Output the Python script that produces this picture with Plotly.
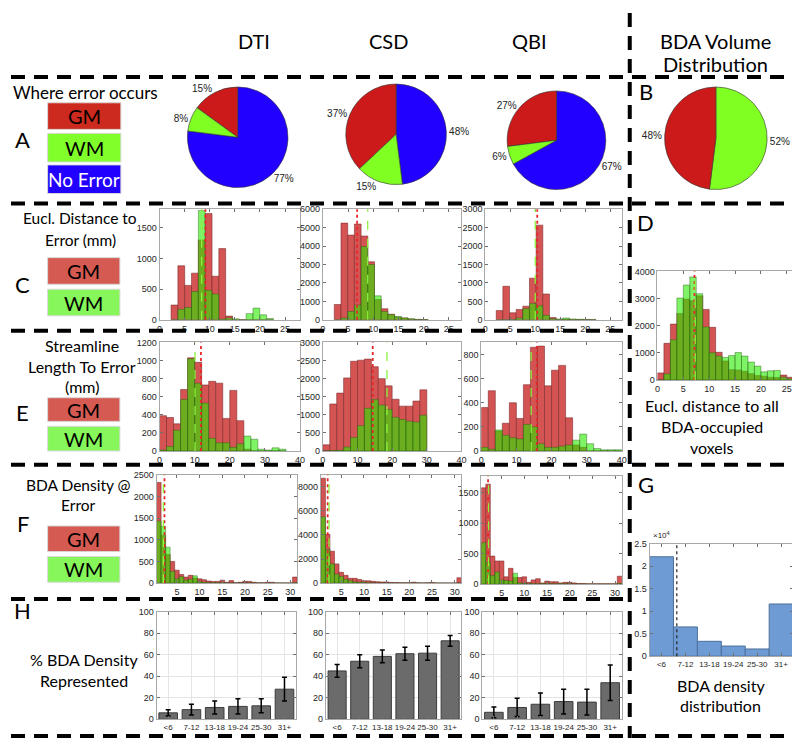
import plotly.graph_objects as go

W, H = 800, 738
def X(px): return px / W
def Y(py): return 1 - py / H

# ---------------- data ----------------
# pie slices listed in drawing order (No Error, GM, WM) so GM starts at 12 o'clock going counter-clockwise
pie_labels = ["No Error", "GM", "WM"]
pie_dti = [77, 15, 8]
pie_csd = [48, 37, 15]
pie_qbi = [67, 27, 6]
bda_labels = ["WM", "GM"]
pie_bda = [52, 48]

# Euclidean distance to error (C)
c_dti_x0, c_dti_w = 2.3, 1.36
c_dti_gm = [240, 880, 560, 760, 1300, 1730, 710, 1160, 60, 0, 0, 0, 0, 0, 0]
c_dti_wm = [0, 170, 200, 460, 1780, 480, 420, 10, 30, 15, 0, 100, 190, 80, 20]
c_dti_mean = [9.15, 8.4]
c_csd_x0, c_csd_w = 2.27, 1.33
c_csd_gm = [830, 5250, 4600, 5200, 4550, 3150, 1100, 600, 300, 150, 100, 40, 20, 10]
c_csd_wm = [0, 100, 450, 800, 3980, 3000, 1300, 450, 280, 180, 100, 60, 20, 10]
c_csd_mean = [6.8, 8.9]
c_qbi_x0, c_qbi_w = 2.2, 1.33
c_qbi_gm = [250, 910, 190, 280, 370, 1130, 2570, 700, 60, 10, 20, 10, 5, 5, 0]
c_qbi_wm = [0, 0, 10, 50, 300, 440, 380, 120, 30, 20, 50, 20, 15, 10, 10]
c_qbi_mean = [10.4, 10.0]

# Streamline length to error (E)
e_x0, e_w = 0, 2
e_dti_gm = [390, 370, 300, 680, 1030, 980, 730, 770, 750, 360, 670, 335, 20, 0, 0, 0, 0, 0]
e_dti_wm = [10, 50, 230, 570, 1020, 750, 530, 140, 90, 90, 40, 80, 165, 130, 20, 10, 35, 20]
e_dti_mean = [11.8, 10.1]
e_csd_gm = [170, 1300, 1600, 2020, 2480, 2510, 2540, 2330, 2000, 1800, 1430, 1240, 1240, 1380, 1690]
e_csd_wm = [0, 10, 20, 110, 370, 700, 1180, 1420, 1270, 1150, 930, 870, 820, 800, 990]
e_csd_mean = [14.4, 18.5]
e_qbi_gm = [360, 500, 165, 230, 400, 270, 550, 860, 870, 540, 670, 710, 275, 50, 30, 0, 0, 0, 0, 0]
e_qbi_wm = [30, 15, 175, 130, 110, 100, 220, 200, 60, 30, 30, 40, 50, 90, 140, 60, 20, 10, 10, 10]
e_qbi_mean = [15.8, 14.2]

# BDA density at error (F)
f_x0, f_w = 0.5, 1
f_dti_gm = [2320, 1100, 660, 500, 300, 200, 140, 180, 120, 100, 80, 50, 40, 40, 70, 20, 60, 10, 20, 40,
            40, 20, 10, 10, 20, 20, 5, 5, 5, 5, 140]
f_dti_wm = [1430, 1310, 830, 270, 100, 150, 70, 90, 170, 30, 20, 10, 10, 10, 10, 5, 5, 5, 5, 5,
            5, 5, 0, 0, 0, 0, 0, 0, 0, 0, 10]
f_dti_mean = [2.25, 2.0]
f_csd_gm = [8700, 4050, 2650, 1600, 900, 650, 400, 400, 300, 200, 200, 150, 120, 100, 100, 60, 50, 40, 30, 30,
            80, 30, 20, 30, 60, 20, 10, 10, 10, 10, 450]
f_csd_wm = [5500, 2800, 1600, 750, 550, 300, 200, 100, 80, 50, 30, 20, 20, 10, 10, 10, 10, 5, 5, 5,
            5, 5, 5, 5, 5, 0, 0, 0, 0, 0, 20]
f_csd_mean = [2.0, 2.3]
f_qbi_gm = [1580, 1640, 460, 380, 380, 120, 260, 110, 110, 120, 30, 70, 90, 20, 50, 40, 40, 20, 30, 30,
            20, 10, 10, 5, 5, 5, 5, 5, 5, 5, 130]
f_qbi_wm = [680, 360, 140, 200, 70, 60, 50, 180, 20, 10, 5, 5, 5, 5, 5, 5, 5, 5, 5, 5,
            0, 0, 0, 0, 0, 0, 0, 0, 0, 0, 10]
f_qbi_mean = [2.0, 2.1]

# Eucl. distance to all BDA-occupied voxels (D)
d_x0, d_w = 0, 1.25
d_gm = [260, 1350, 2060, 2450, 2980, 2920, 3100, 2600, 1940, 1020, 700, 380, 370, 320, 230, 160, 140, 100, 90, 180, 100]
d_wm = [0, 220, 1480, 3020, 3500, 3800, 3180, 1950, 1000, 880, 830, 900, 1010, 880, 660, 510, 300, 340, 350, 100, 40]
d_mean = [7.15, 7.3]

# BDA density categories
density_cats = ["<6", "7-12", "13-18", "19-24", "25-30", "31+"]
g_counts = [22100, 6500, 3300, 2250, 1600, 11600]
g_threshold = 0.64

h_dti = [6, 9, 11, 12, 12.5, 28]
h_dti_err = [3, 5, 6, 7, 6.5, 11]
h_csd = [45, 54, 58.5, 61, 61.5, 73]
h_csd_err = [6, 6, 6, 6, 6.5, 5]
h_qbi = [6.5, 11, 14, 16.5, 16, 34]
h_qbi_err = [5, 8.5, 10.5, 11.5, 12, 16.5]

# ---------------- styles ----------------
COL = {"GM": "#cc1a1a", "WM": "#80ff22", "No Error": "#2200ff"}
HIST_RED = "rgb(212,84,84)"
HIST_RED_EDGE = "rgba(120,40,40,0.8)"
HIST_GREEN = "rgba(40,235,0,0.6)"
HIST_GREEN_EDGE = "rgba(40,90,20,0.6)"
TXT_FONT = "Lato"
TICK_FONT = dict(family="Liberation Sans", size=9, color="#262626")

fig = go.Figure()
layout = dict(width=W, height=H, margin=dict(l=0, r=0, t=0, b=0),
              paper_bgcolor="white", plot_bgcolor="white", showlegend=False,
              barmode="overlay")
shapes = []
annotations = []

def axis_common(dom, rng):
    return dict(domain=dom, range=rng, showline=True, mirror="allticks", ticks="inside",
                ticklen=3, tickwidth=1, linecolor="#a8a8a8", tickcolor="#707070", linewidth=1,
                tickfont=TICK_FONT, zeroline=False, showgrid=False, fixedrange=True)

def add_hist(n, xpx, ypx, x0, w, gm, wm, means, xrng, yrng, xt, yt):
    xs = "x" if n == 1 else f"x{n}"
    ys = "y" if n == 1 else f"y{n}"
    cg = [x0 + w * (i + 0.5) for i in range(len(gm))]
    cw = [x0 + w * (i + 0.5) for i in range(len(wm))]
    fig.add_trace(go.Bar(x=cg, y=gm, width=w, xaxis=xs, yaxis=ys,
                         marker=dict(color=HIST_RED, line=dict(color=HIST_RED_EDGE, width=0.7)),
                         hoverinfo="skip"))
    fig.add_trace(go.Bar(x=cw, y=wm, width=w, xaxis=xs, yaxis=ys,
                         marker=dict(color=HIST_GREEN, line=dict(color=HIST_GREEN_EDGE, width=0.7)),
                         hoverinfo="skip"))
    xa = axis_common([X(xpx[0]), X(xpx[1])], xrng)
    xa.update(anchor=ys, tickvals=xt)
    ya = axis_common([Y(ypx[1]), Y(ypx[0])], yrng)
    ya.update(anchor=xs, tickvals=yt)
    layout["xaxis" if n == 1 else f"xaxis{n}"] = xa
    layout["yaxis" if n == 1 else f"yaxis{n}"] = ya
    shapes.append(dict(type="line", xref=xs, yref=f"{ys} domain", x0=means[0], x1=means[0], y0=0, y1=1,
                       line=dict(color="#e8262a", width=1.8, dash="dot")))
    shapes.append(dict(type="line", xref=xs, yref=f"{ys} domain", x0=means[1], x1=means[1], y0=0, y1=1,
                       line=dict(color="#8cf23c", width=1.3, dash="dash")))

# pies
def add_pie(vals, labels, cx, cy, r):
    fig.add_trace(go.Pie(values=vals, labels=labels, sort=False, direction="counterclockwise",
                         rotation=0, textinfo="percent", textposition="outside",
                         marker=dict(colors=[COL[l] for l in labels], line=dict(color="#333333", width=0.6)),
                         textfont=dict(family="Liberation Sans", size=10, color="#222222"),
                         domain=dict(x=[X(cx - r), X(cx + r)], y=[Y(cy + r), Y(cy - r)]),
                         hoverinfo="skip", showlegend=False))

add_pie(pie_dti, pie_labels, 229, 126, 51)
add_pie(pie_csd, pie_labels, 389, 123, 51)
add_pie(pie_qbi, pie_labels, 551, 129, 50)
add_pie(pie_bda, bda_labels, 712, 127, 52)

# histograms
c_xt = [0, 5, 10, 15, 20, 25]
add_hist(1, (150, 292), (199, 311), c_dti_x0, c_dti_w, c_dti_gm, c_dti_wm, c_dti_mean, [0, 28], [0, 1800], c_xt, [0, 500, 1000, 1500])
add_hist(2, (315, 455), (199, 311), c_csd_x0, c_csd_w, c_csd_gm, c_csd_wm, c_csd_mean, [0, 27.5], [0, 6000], c_xt, [0, 1000, 2000, 3000, 4000, 5000, 6000])
add_hist(3, (479, 617), (199, 311), c_qbi_x0, c_qbi_w, c_qbi_gm, c_qbi_wm, c_qbi_mean, [0, 27.3], [0, 3000], c_xt, [0, 500, 1000, 1500, 2000, 2500, 3000])

e_xt = [0, 10, 20, 30, 40]
add_hist(4, (150, 292), (334, 444), e_x0, e_w, e_dti_gm, e_dti_wm, e_dti_mean, [0, 40], [0, 1200], e_xt, [0, 200, 400, 600, 800, 1000, 1200])
add_hist(5, (315, 455), (334, 444), e_x0, e_w, e_csd_gm, e_csd_wm, e_csd_mean, [0, 40], [0, 3000], e_xt, [0, 500, 1000, 1500, 2000, 2500, 3000])
add_hist(6, (475, 617), (334, 444), e_x0, e_w, e_qbi_gm, e_qbi_wm, e_qbi_mean, [0, 40], [0, 900], e_xt, [0, 200, 400, 600, 800])

f_xt = [5, 10, 15, 20, 25, 30]
add_hist(7, (147, 289), (468, 578), f_x0, f_w, f_dti_gm, f_dti_wm, f_dti_mean, [0.5, 31.5], [0, 2500], f_xt, [0, 500, 1000, 1500, 2000, 2500])
add_hist(8, (313, 455), (468, 578), f_x0, f_w, f_csd_gm, f_csd_wm, f_csd_mean, [0.5, 31.5], [0, 9000], f_xt, [0, 2000, 4000, 6000, 8000])
add_hist(9, (475, 617), (469, 579), f_x0, f_w, f_qbi_gm, f_qbi_wm, f_qbi_mean, [0.5, 31.5], [0, 1780], f_xt, [0, 500, 1000, 1500])

add_hist(10, (653, 793), (262, 372), d_x0, d_w, d_gm, d_wm, d_mean, [0, 26.8], [0, 4000], c_xt, [0, 1000, 2000, 3000, 4000])

CAT_FONT = dict(family="Liberation Sans", size=8, color="#262626")

# G: BDA density distribution
fig.add_trace(go.Bar(x=density_cats, y=g_counts, width=1, xaxis="x11", yaxis="y11",
                     marker=dict(color="#6e9bd4", line=dict(color="#4d6f9c", width=1)), hoverinfo="skip"))
xa = axis_common([X(645), X(790)], [-0.5, 5.5])
xa.update(anchor="y11", type="category", tickangle=0, tickfont=CAT_FONT)
ya = axis_common([Y(652), Y(538)], [0, 25000])
ya.update(anchor="x11", tickvals=[0, 5000, 10000, 15000, 20000, 25000],
          ticktext=["0", "0.5", "1", "1.5", "2", "2.5"])
layout["xaxis11"] = xa; layout["yaxis11"] = ya
shapes.append(dict(type="line", xref="x11", yref="y11 domain", x0=g_threshold, x1=g_threshold, y0=0, y1=1,
                   line=dict(color="#222222", width=1.2, dash="dot")))
annotations.append(dict(text="×10<sup>4</sup>", x=X(646), y=Y(536), xref="paper", yref="paper",
                        xanchor="left", yanchor="bottom", showarrow=False,
                        font=dict(family="Liberation Sans", size=8, color="#262626")))

# H: % BDA density represented
def add_hbar(n, xpx, vals, errs):
    fig.add_trace(go.Bar(x=density_cats, y=vals, width=0.8, xaxis=f"x{n}", yaxis=f"y{n}",
                         marker=dict(color="#6b6b6b", line=dict(color="#3c3c3c", width=1)),
                         error_y=dict(type="data", array=errs, color="black", thickness=1.5, width=2.5),
                         hoverinfo="skip"))
    xa = axis_common([X(xpx[0]), X(xpx[1])], [-0.5, 5.5])
    xa.update(anchor=f"y{n}", type="category", showgrid=True, gridcolor="#e4e4e4",
              tickangle=0, tickfont=CAT_FONT)
    ya = axis_common([Y(716), Y(607)], [0, 100])
    ya.update(anchor=f"x{n}", tickvals=[0, 20, 40, 60, 80, 100], showgrid=True, gridcolor="#e4e4e4")
    layout[f"xaxis{n}"] = xa; layout[f"yaxis{n}"] = ya

add_hbar(12, (147, 288), h_dti, h_dti_err)
add_hbar(13, (318, 455), h_csd, h_csd_err)
add_hbar(14, (476, 617), h_qbi, h_qbi_err)

# ---------------- decorations ----------------
DASH = dict(color="black", width=4, dash="14px,9px")
def hline(y, x0, x1):
    shapes.append(dict(type="line", xref="paper", yref="paper", x0=X(x0), x1=X(x1), y0=Y(y), y1=Y(y), line=DASH))
def vline(x, y0, y1):
    shapes.append(dict(type="line", xref="paper", yref="paper", x0=X(x), x1=X(x), y0=Y(y0), y1=Y(y1), line=DASH))

hline(65, 0, 800)
hline(193, 0, 800)
hline(322, 0, 624)
hline(458, 0, 800)
hline(594, 0, 624)
hline(733, 0, 800)
vline(625, 0, 738)

def txt(t, x, y, size, color="black", xanchor="center", family=TXT_FONT):
    annotations.append(dict(text=t, x=X(x), y=Y(y), xref="paper", yref="paper", xanchor=xanchor,
                            yanchor="middle", showarrow=False, font=dict(family=family, size=size, color=color)))

def box(x0, y0, x1, y1, color, label, tcolor="black", size=20):
    shapes.append(dict(type="rect", xref="paper", yref="paper", x0=X(x0), x1=X(x1), y0=Y(y1), y1=Y(y0),
                       fillcolor=color, line=dict(color="#d8d8d8", width=1)))
    txt(label, (x0 + x1) / 2, (y0 + y1) / 2, size, tcolor)

# headers
txt("DTI", 245, 28, 20)
txt("CSD", 381, 28, 20)
txt("QBI", 524, 28, 20)
txt("BDA Volume", 712, 28, 20)
txt("Distribution", 712, 52, 20)

# row A
txt("Where error occurs", 75, 81, 17)
txt("A", 12, 128, 22)
box(37, 91, 111, 118, "#cc2a1e", "GM")
box(37, 122, 111, 151, "#80ff2a", "WM")
box(37, 154, 111, 183, "#2200ff", "No Error", "white", size=19)
txt("B", 641, 80, 22)

# row C
txt("Eucl. Distance to", 70, 208, 15.5)
txt("Error (mm)", 70, 230, 15.5)
txt("C", 12, 275, 22)
box(37, 248, 110, 275, "#d45a52", "GM")
box(37, 280, 110, 307, "#86f65a", "WM")
txt("D", 641, 212, 22)

# row E
txt("Streamline", 72, 337, 16)
txt("Length To Error", 72, 358, 16)
txt("(mm)", 72, 379, 16)
txt("E", 12, 405, 22)
box(37, 390, 110, 414, "#d45a52", "GM")
box(37, 419, 110, 444, "#86f65a", "WM")

# D label
txt("Eucl. distance to all", 708, 398, 16)
txt("BDA-occupied", 708, 419, 16)
txt("voxels", 708, 440, 16)

# row F
txt("BDA Density @", 68, 478, 15.5)
txt("Error", 68, 499, 15.5)
txt("F", 12, 518, 22)
box(37, 520, 110, 546, "#d45a52", "GM")
box(37, 551, 110, 577, "#86f65a", "WM")
txt("G", 641, 478, 22)

# row H
txt("H", 12, 606, 22)
txt("% BDA Density", 74, 655, 16)
txt("Represented", 74, 677, 16)
txt("BDA density", 717, 682, 16)
txt("distribution", 717, 702, 16)

layout["shapes"] = shapes
layout["annotations"] = annotations
fig.update_layout(**layout)
fig.write_html("out.html")
